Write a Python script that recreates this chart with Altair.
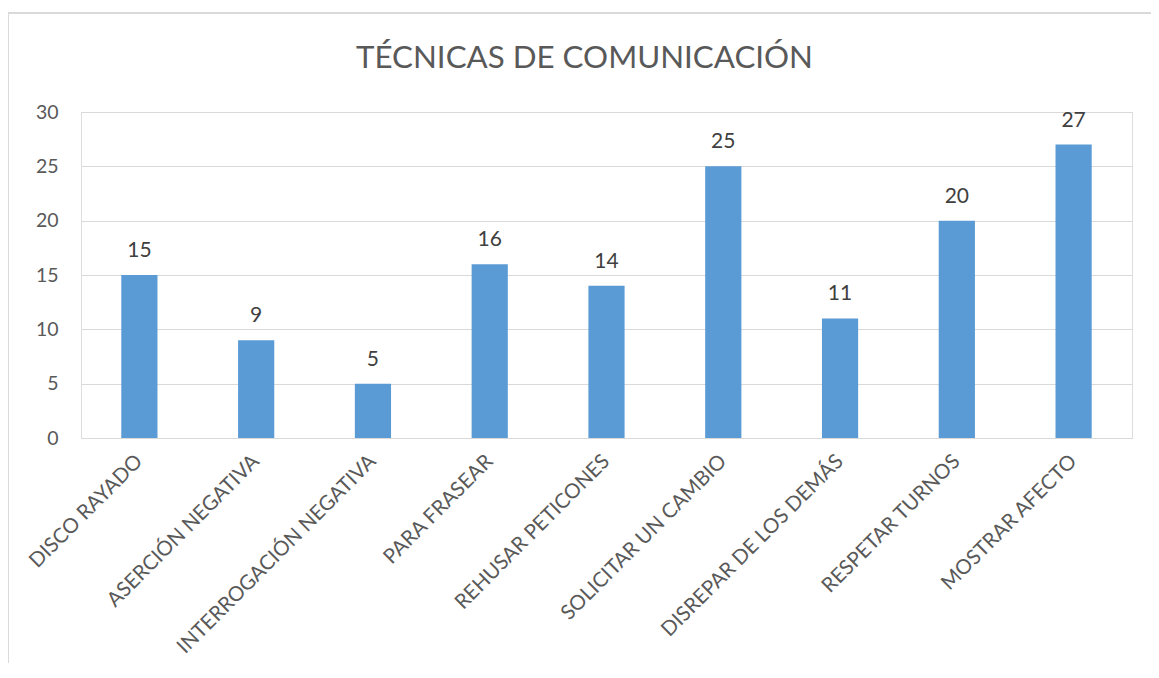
import altair as alt
import pandas as pd

categories = ["DISCO RAYADO", "ASERCIÓN NEGATIVA", "INTERROGACIÓN NEGATIVA", "PARA FRASEAR",
              "REHUSAR PETICONES", "SOLICITAR UN CAMBIO", "DISREPAR DE LOS DEMÁS",
              "RESPETAR TURNOS", "MOSTRAR AFECTO"]
values = [15, 9, 5, 16, 14, 25, 11, 20, 27]
y_ticks = [0, 5, 10, 15, 20, 25, 30]

df = pd.DataFrame({"cat": categories, "val": values})
FONT = "Lato"
GREY = "#595959"

x = alt.X("cat:N", sort=categories, title=None,
          scale=alt.Scale(paddingInner=0.69, paddingOuter=0.345),
          axis=alt.Axis(labelAngle=-45, labelAlign="right", labelBaseline="middle",
                        labelPadding=20, labelFontSize=20.5, labelColor=GREY, labelFont=FONT,
                        ticks=False, domain=True, domainColor="#d9d9d9", labelLimit=400))
y = alt.Y("val:Q", title=None, scale=alt.Scale(domain=[0, 30]),
          axis=alt.Axis(values=y_ticks, labelFontSize=19.5, labelColor=GREY, labelFont=FONT,
                        ticks=False, domain=False, grid=True, gridColor="#d9d9d9",
                        labelPadding=23))

bars = alt.Chart(df).mark_bar(color="#5B9BD5").encode(x=x, y=y)
labels = alt.Chart(df).mark_text(fontSize=21, color="#404040", font=FONT,
                                 baseline="alphabetic", dy=-18).encode(
    x=alt.X("cat:N", sort=categories), y="val:Q", text="val:Q")
frame = alt.Chart(df).mark_rect(fill=None, stroke="#d9d9d9", strokeWidth=1, clip=False).encode(
    x=alt.value(-73), x2=alt.value(1200), y=alt.value(-99), y2=alt.value(700))

chart = alt.layer(frame, bars, labels).properties(
    width=1051, height=326,
    autosize=alt.AutoSizeParams(type="none"),
    padding={"left": 73, "top": 104, "right": 19, "bottom": 225},
    title=alt.TitleParams("TÉCNICAS DE COMUNICACIÓN", fontSize=31.3, font=FONT, color=GREY,
                          fontWeight="normal", anchor="middle", baseline="alphabetic",
                          offset=-87, dx=-22),
).configure_view(stroke=None).configure(background="white")

chart.save("out.html", embed_options={"renderer": "svg", "actions": False})
